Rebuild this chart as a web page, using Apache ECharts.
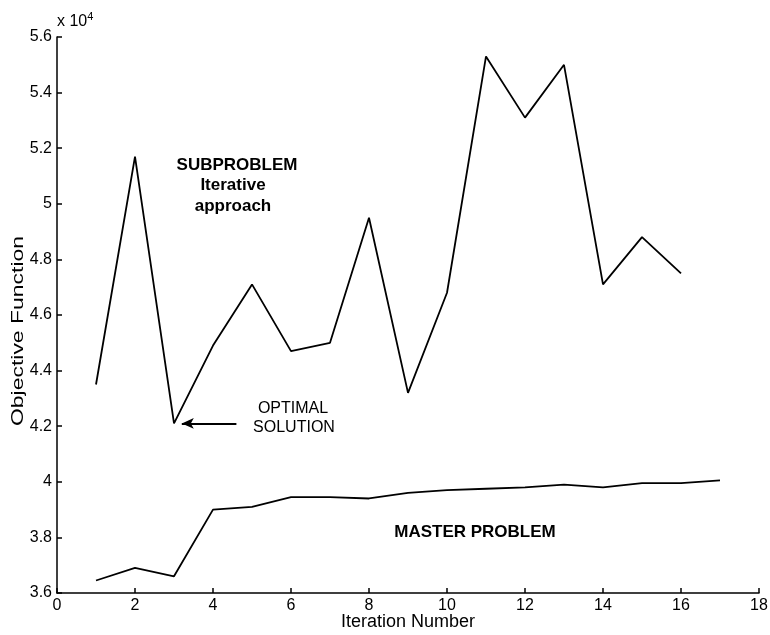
<!DOCTYPE html>
<html>
<head>
<meta charset="utf-8">
<script src="https://cdn.jsdelivr.net/npm/echarts@6/dist/echarts.min.js"></script>
<style>
  html, body { margin: 0; padding: 0; background: #fff; }
  #chart { width: 770px; height: 635px; }
</style>
</head>
<body>
<div id="chart"></div>
<script>
// iteration numbers
const iterations = [1, 2, 3, 4, 5, 6, 7, 8, 9, 10, 11, 12, 13, 14, 15, 16, 17];
// objective function, units of 1e4
const subproblem = [4.35, 5.17, 4.21, 4.49, 4.71, 4.47, 4.50, 4.95, 4.32, 4.68, 5.53, 5.31, 5.50, 4.71, 4.88, 4.75];
const master = [3.645, 3.69, 3.66, 3.90, 3.91, 3.945, 3.945, 3.94, 3.96, 3.97, 3.975, 3.98, 3.99, 3.98, 3.995, 3.995, 4.005];
const optimalPoint = [3, 4.21];

const font = 'Liberation Sans, Arial, Helvetica, sans-serif';
const chart = echarts.init(document.getElementById('chart'));

const toPairs = (vals) => vals.map((v, i) => [iterations[i], v]);

chart.setOption({
  animation: false,
  backgroundColor: '#fff',
  grid: { left: 57, right: 11, top: 37, bottom: 42, outerBoundsMode: 'none', containLabel: false },
  xAxis: {
    type: 'value',
    min: 0,
    max: 18,
    interval: 2,
    name: 'Iteration Number',
    nameLocation: 'middle',
    nameGap: 20,
    nameMoveOverlap: false,
    nameTextStyle: { color: '#000', fontSize: 18, fontFamily: font },
    axisLine: { lineStyle: { color: '#000', width: 1.5 } },
    axisTick: { inside: true, length: 5, lineStyle: { color: '#000', width: 1.5 } },
    axisLabel: { color: '#000', fontSize: 16, fontFamily: font, margin: 5 },
    splitLine: { show: false }
  },
  yAxis: {
    type: 'value',
    min: 3.6,
    max: 5.6,
    interval: 0.2,
    name: 'x 10{sup|4}',
    nameLocation: 'end',
    nameGap: 4,
    nameTextStyle: {
      color: '#000', fontSize: 16, fontFamily: font, align: 'left',
      rich: { sup: { fontSize: 11, verticalAlign: 'top', padding: [0, 0, 9, 0], fontFamily: font, color: '#000' } }
    },
    axisLine: { show: true, lineStyle: { color: '#000', width: 1.5 } },
    axisTick: { show: true, inside: true, length: 5, lineStyle: { color: '#000', width: 1.5 } },
    axisLabel: { color: '#000', fontSize: 16, fontFamily: font, margin: 5 },
    splitLine: { show: false }
  },
  series: [
    {
      name: 'Subproblem',
      type: 'line',
      data: toPairs(subproblem),
      showSymbol: false,
      lineStyle: { color: '#000', width: 1.8 },
      markLine: {
        silent: true,
        symbolSize: [8, 12],
        lineStyle: { color: '#000', width: 1.8, type: 'solid' },
        label: { show: false },
        data: [[
          { coord: [4.6, optimalPoint[1]], symbol: 'none' },
          { coord: [optimalPoint[0] + 0.2, optimalPoint[1]], symbol: 'arrow' }
        ]]
      }
    },
    {
      name: 'Master',
      type: 'line',
      data: toPairs(master),
      showSymbol: false,
      lineStyle: { color: '#000', width: 1.8 }
    }
  ],
  graphic: [
    {
      type: 'text', x: 18, y: 331, rotation: Math.PI / 2, scaleX: 1.35,
      style: { text: 'Objective Function', fill: '#000', font: '17px ' + font, align: 'center', verticalAlign: 'middle' }
    },
    {
      type: 'text', x: 237, y: 165,
      style: { text: 'SUBPROBLEM', fill: '#000', font: 'bold 17px ' + font, align: 'center', verticalAlign: 'middle' }
    },
    {
      type: 'text', x: 233, y: 185,
      style: { text: 'Iterative', fill: '#000', font: 'bold 17px ' + font, align: 'center', verticalAlign: 'middle' }
    },
    {
      type: 'text', x: 233, y: 206,
      style: { text: 'approach', fill: '#000', font: 'bold 17px ' + font, align: 'center', verticalAlign: 'middle' }
    },
    {
      type: 'text', x: 293, y: 409,
      style: { text: 'OPTIMAL', fill: '#000', font: '16px ' + font, align: 'center', verticalAlign: 'middle' }
    },
    {
      type: 'text', x: 294, y: 428,
      style: { text: 'SOLUTION', fill: '#000', font: '16px ' + font, align: 'center', verticalAlign: 'middle' }
    },
    {
      type: 'text', x: 475, y: 532,
      style: { text: 'MASTER PROBLEM', fill: '#000', font: 'bold 17px ' + font, align: 'center', verticalAlign: 'middle' }
    }
  ]
});
</script>
</body>
</html>
